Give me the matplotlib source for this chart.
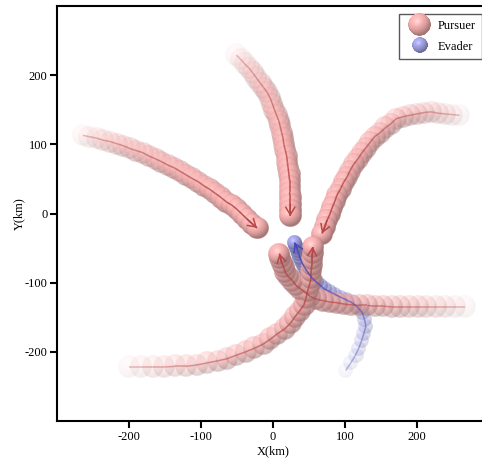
import numpy as np
import matplotlib
matplotlib.use('Agg')
import matplotlib.pyplot as plt
from matplotlib.collections import LineCollection
from matplotlib.legend_handler import HandlerBase
from matplotlib.image import BboxImage
from matplotlib.transforms import Bbox, TransformedBbox
from matplotlib.lines import Line2D

plt.rcParams['font.family'] = ['Liberation Serif', 'DejaVu Serif']
plt.rcParams['font.size'] = 9
plt.rcParams['axes.unicode_minus'] = False

# pursuer tracks (km), one position per time step
p1_x = [-264, -255, -245, -236, -226, -217, -208, -199, -190, -181, -172, -163, -155, -146, -137,
        -129, -121, -113, -104, -96, -88, -80, -72, -65, -57, -50, -43, -36, -29, -22]
p1_y = [113, 111, 109, 106, 104, 101, 98, 94, 91, 88, 83, 79, 75, 70, 66,
        61, 56, 51, 46, 40, 35, 29, 23, 17, 12, 6, -1, -8, -15, -21]

p2_x = [-51, -45, -39, -33, -28, -23, -18, -13, -8, -4, -1, 2, 5, 8, 10,
        12, 14, 15, 17, 19, 20, 21, 22, 23, 23, 23, 24, 24, 24, 24]
p2_y = [229, 223, 216, 210, 203, 196, 189, 182, 175, 167, 159, 150, 142, 134, 126,
        117, 109, 100, 92, 83, 74, 66, 57, 48, 40, 31, 22, 14, 5, -4]

p3_x = [259, 249, 239, 229, 220, 210, 200, 190, 181, 171, 164, 156, 149, 141, 135,
        129, 123, 118, 112, 107, 103, 98, 94, 89, 86, 82, 79, 75, 72, 68]
p3_y = [142, 143, 144, 145, 147, 146, 144, 142, 140, 137, 130, 124, 117, 111, 103,
        95, 87, 79, 71, 62, 53, 45, 36, 27, 18, 8, -1, -10, -20, -29]

p4_x = [-200, -184, -167, -151, -136, -121, -106, -91, -77, -64, -51, -38, -26, -14, -4,
        6, 16, 24, 30, 37, 43, 46, 48, 51, 53, 53, 54, 54, 55, 55]
p4_y = [-222, -222, -222, -222, -221, -221, -219, -216, -213, -210, -205, -200, -195, -189, -182,
        -174, -167, -159, -150, -141, -132, -122, -112, -102, -93, -83, -74, -66, -57, -48]

p5_x = [266, 253, 239, 226, 213, 201, 189, 177, 165, 153, 142, 131, 120, 109, 99,
        89, 79, 70, 60, 52, 45, 38, 32, 27, 21, 17, 15, 12, 10, 9]
p5_y = [-135, -135, -135, -135, -135, -135, -135, -135, -135, -134, -134, -133, -133, -132, -131,
        -129, -128, -126, -124, -120, -114, -109, -104, -97, -91, -85, -78, -71, -64, -58]

# evader track (km)
ev_x = [101, 108, 114, 119, 123, 126, 129, 127, 124, 117, 110, 102, 94, 86, 79,
        71, 66, 60, 55, 51, 47, 44, 41, 39, 37, 36, 34, 33, 31, 30]
ev_y = [-227, -216, -206, -195, -184, -174, -163, -153, -143, -135, -129, -125, -121, -117, -113,
        -109, -104, -99, -94, -89, -83, -78, -73, -68, -63, -58, -54, -49, -46, -42]

pursuers = [(p1_x, p1_y), (p2_x, p2_y), (p3_x, p3_y), (p4_x, p4_y), (p5_x, p5_y)]

P_COLOR = (0.96, 0.69, 0.69)
E_COLOR = (0.64, 0.64, 0.90)
P_LINE = '#b84848'
E_LINE = '#4646b8'


def sphere(color, n=96):
    v, u = np.mgrid[1:-1:n * 1j, -1:1:n * 1j]
    r2 = u ** 2 + v ** 2
    z = np.sqrt(np.clip(1 - r2, 0, 1))
    light = np.array([-0.35, 0.5, 0.8])
    light /= np.linalg.norm(light)
    diff = np.clip(u * light[0] + v * light[1] + z * light[2], 0, 1)
    h = light + np.array([0, 0, 1.0])
    h /= np.linalg.norm(h)
    spec = np.clip(u * h[0] + v * h[1] + z * h[2], 0, 1) ** 30
    rgb = np.array(color)[None, None, :] * (0.68 + 0.40 * diff[..., None]) + 0.12 * spec[..., None]
    rgb = np.clip(rgb, 0, 1)
    a = np.clip((1 - np.sqrt(r2)) * n / 2, 0, 1)
    return np.dstack([rgb, a])


class SphereHandler(HandlerBase):
    def __init__(self, img, size):
        super().__init__()
        self.img = img
        self.size = size

    def create_artists(self, legend, orig_handle, xdescent, ydescent, width, height, fontsize, trans):
        cx = width / 2 - xdescent
        cy = height / 2 - ydescent
        r = self.size / 2
        bb = TransformedBbox(Bbox.from_extents(cx - r, cy - r, cx + r, cy + r), trans)
        im = BboxImage(bb, interpolation='antialiased')
        im.set_data(self.img)
        return [im]


p_img = sphere(P_COLOR)
e_img = sphere(E_COLOR)

fig = plt.figure(figsize=(4.82, 4.62), dpi=100)
ax = fig.add_axes([57 / 482, 41 / 462, 432 / 482, 415 / 462])
ax.set_xlim(-300, 300)
ax.set_ylim(-300, 300)

bb = ax.get_window_extent()
kx = bb.width / 600
ky = bb.height / 600


def draw_ball(img, x, y, d, alpha, z):
    rx = d / 2 / kx
    ry = d / 2 / ky
    ax.imshow(img, extent=(x - rx, x + rx, y - ry, y + ry), alpha=alpha,
              aspect='auto', zorder=z, interpolation='antialiased')


def draw_path(xs, ys, color, z):
    pts = np.column_stack([xs, ys])
    segs = np.stack([pts[:-1], pts[1:]], axis=1)
    n = len(segs)
    cols = [(*matplotlib.colors.to_rgb(color), 0.35 + 0.65 * i / (n - 1)) for i in range(n)]
    ax.add_collection(LineCollection(segs, colors=cols, linewidths=1.1, zorder=z))
    ax.annotate('', xy=(xs[-1], ys[-1]), xytext=(xs[-3], ys[-3]),
                arrowprops=dict(arrowstyle='->,head_length=0.5,head_width=0.3', color=color,
                                lw=1.1, mutation_scale=11, shrinkA=0, shrinkB=0),
                zorder=z)


n_steps = len(ev_x)
alphas = np.linspace(0.05, 1.0, n_steps) ** 0.8
for k in range(n_steps):
    for px, py in pursuers:
        draw_ball(p_img, px[k], py[k], 22, alphas[k], 1 + k * 0.01)
    draw_ball(e_img, ev_x[k], ev_y[k], 15, alphas[k], 1.005 + k * 0.01)

for px, py in pursuers:
    draw_path(px, py, P_LINE, 3)
draw_path(ev_x, ev_y, E_LINE, 3)

ax.set_xlim(-300, 300)
ax.set_ylim(-300, 300)
ax.set_xticks([-200, -100, 0, 100, 200])
ax.set_yticks([-200, -100, 0, 100, 200])
ax.set_xlabel('X(km)')
ax.set_ylabel('Y(km)')
ax.xaxis.set_label_coords(0.5, -0.058)
ax.yaxis.set_label_coords(-0.074, 0.5)
for s in ax.spines.values():
    s.set_linewidth(1.5)
ax.tick_params(direction='out', length=5, width=1.5, pad=2, top=False, right=False)

h_p = Line2D([], [])
h_e = Line2D([], [])
ax.legend([h_p, h_e], ['Pursuer', 'Evader'], loc='upper right',
          handler_map={h_p: SphereHandler(p_img, 16.5), h_e: SphereHandler(e_img, 11)},
          fancybox=False, edgecolor='0.35', framealpha=1, handlelength=2.4,
          handletextpad=0.2, labelspacing=0.7, borderpad=0.5, borderaxespad=0.6)

fig.savefig('out.png', dpi=100)
